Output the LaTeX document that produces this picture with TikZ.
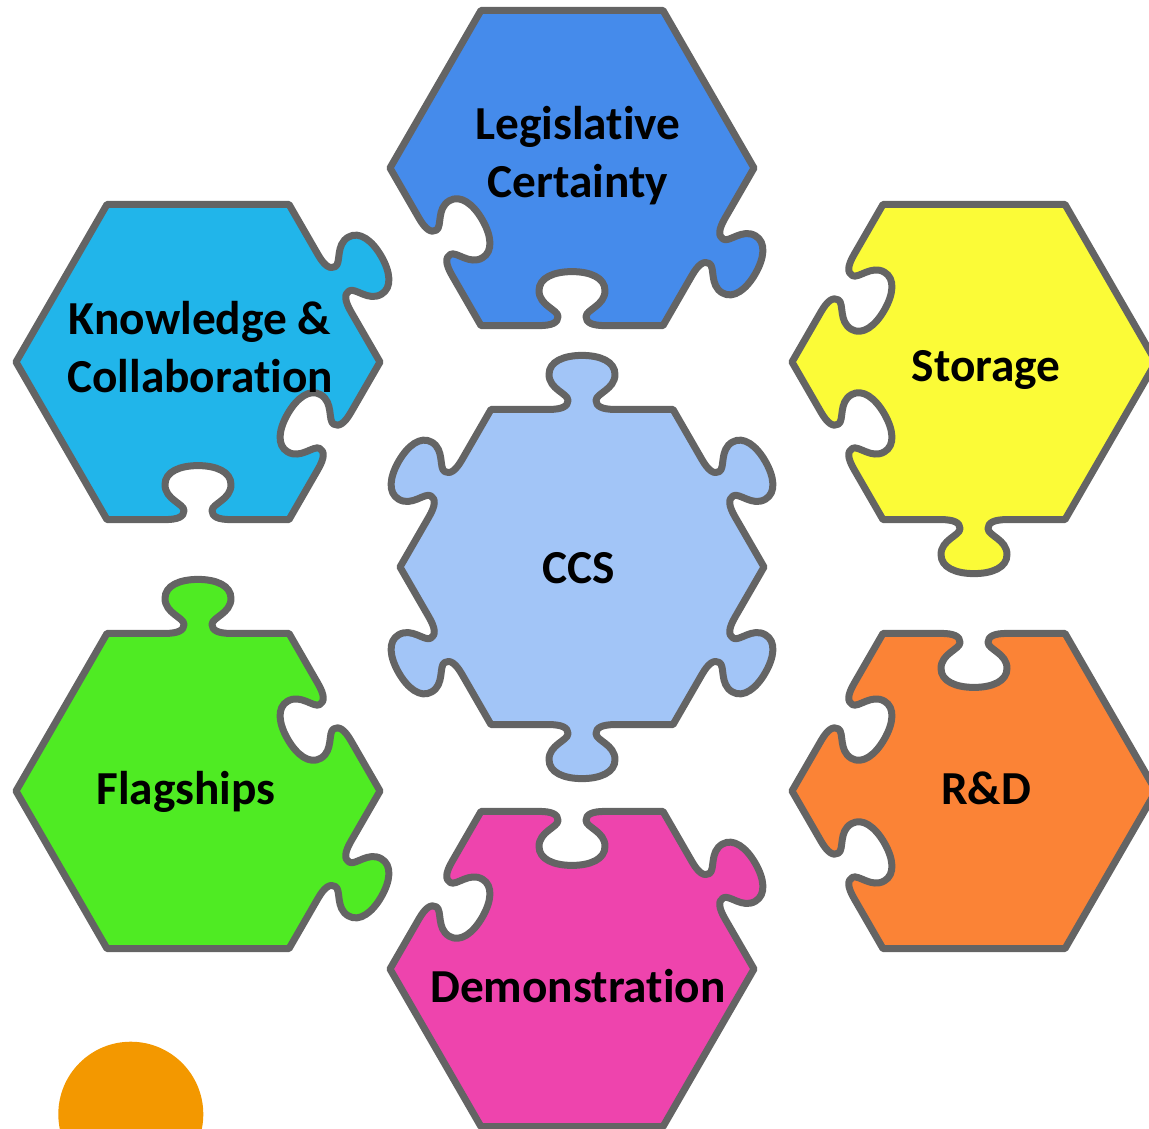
\documentclass[tikz,border=0pt]{standalone}
\usepackage{fontspec}
\setmainfont{Carlito}[Ligatures=NoCommon]
\tikzset{every picture/.style={line width=0.75pt}}
\tikzset{
  piece/.style={draw={rgb, 255:red, 100; green, 100; blue, 100 }, line width=5.25pt, line join=round},
  piecetext/.style={font=\fontsize{35.5}{43}\selectfont\bfseries, align=center, anchor=base},
  knobat/.style={rotate=60*\k+30, shift={(157.6,0)}, xscale=\t}
}
% side \k of a piece: tab (\t=1), blank (\t=-1) or flat (\t=0)
\newcommand\knob{%
  -- ([knobat]0,-33)
  .. controls ([knobat]0,-20) and ([knobat]3,-14) .. ([knobat]9,-14)
  .. controls ([knobat]16,-14) and ([knobat]20,-33) .. ([knobat]35,-33)
  .. controls ([knobat]48,-33) and ([knobat]54,-18) .. ([knobat]54,0)
  .. controls ([knobat]54,18) and ([knobat]48,33) .. ([knobat]35,33)
  .. controls ([knobat]20,33) and ([knobat]16,14) .. ([knobat]9,14)
  .. controls ([knobat]3,14) and ([knobat]0,20) .. ([knobat]0,33)
}
\begin{document}
\begin{tikzpicture}[x=0.75pt,y=0.75pt,yscale=-1,xscale=1]
	\useasboundingbox (0,0) rectangle (1149,1128);

	%Shape: Puzzle Piece [Legislative Certainty]
	\begin{scope}[shift={(572,168)}]
	\draw [piece, fill={rgb, 255:red, 69; green, 139; blue, 235 }] (0:182)
	  \foreach \k/\t in {0/1,1/-1,2/-1,3/0,4/0,5/0} {\knob -- (60*\k+60:182)} -- cycle ;
	\end{scope}
	%Shape: Puzzle Piece [Knowledge & Collaboration]
	\begin{scope}[shift={(198,362)}]
	\draw [piece, fill={rgb, 255:red, 33; green, 181; blue, 234 }] (0:182)
	  \foreach \k/\t in {0/-1,1/-1,2/0,3/0,4/0,5/1} {\knob -- (60*\k+60:182)} -- cycle ;
	\end{scope}
	%Shape: Puzzle Piece [Storage]
	\begin{scope}[shift={(974,362)}]
	\draw [piece, fill={rgb, 255:red, 251; green, 251; blue, 55 }] (0:182)
	  \foreach \k/\t in {0/0,1/1,2/-1,3/-1,4/0,5/0} {\knob -- (60*\k+60:182)} -- cycle ;
	\end{scope}
	%Shape: Puzzle Piece [CCS]
	\begin{scope}[shift={(582,567)}]
	\draw [piece, fill={rgb, 255:red, 162; green, 197; blue, 247 }] (0:182)
	  \foreach \k/\t in {0/1,1/1,2/1,3/1,4/1,5/1} {\knob -- (60*\k+60:182)} -- cycle ;
	\end{scope}
	%Shape: Puzzle Piece [Flagships]
	\begin{scope}[shift={(198,791)}]
	\draw [piece, fill={rgb, 255:red, 79; green, 235; blue, 35 }] (0:182)
	  \foreach \k/\t in {0/1,1/0,2/0,3/0,4/1,5/-1} {\knob -- (60*\k+60:182)} -- cycle ;
	\end{scope}
	%Shape: Puzzle Piece [R&D]
	\begin{scope}[shift={(974,791)}]
	\draw [piece, fill={rgb, 255:red, 251; green, 131; blue, 54 }] (0:182)
	  \foreach \k/\t in {0/0,1/0,2/-1,3/-1,4/-1,5/0} {\knob -- (60*\k+60:182)} -- cycle ;
	\end{scope}
	%Shape: Puzzle Piece [Demonstration]
	\begin{scope}[shift={(572,969)}]
	\draw [piece, fill={rgb, 255:red, 238; green, 68; blue, 173 }] (0:182)
	  \foreach \k/\t in {0/0,1/0,2/0,3/-1,4/-1,5/1} {\knob -- (60*\k+60:182)} -- cycle ;
	\end{scope}

	%Shape: Circle
	\draw [draw opacity=0, fill={rgb, 255:red, 243; green, 152; blue, 0 }] (130.8,1114.2) circle (72.5) ;

	% Text Node
	\draw (578,197) node [piecetext] (legis) {Legislative\\Certainty};
	% Text Node
	\draw (200,392) node [piecetext] (know) {Knowledge \&\\Collaboration};
	% Text Node
	\draw (986,381) node [piecetext] (stor) {Storage};
	% Text Node
	\draw (579,583) node [piecetext] (ccs) {CCS};
	% Text Node
	\draw (186,804) node [piecetext] (flag) {Flagships};
	% Text Node
	\draw (986,804) node [piecetext] (rnd) {R\&D};
	% Text Node
	\draw (578,1002) node [piecetext] (demo) {Demonstration};

\end{tikzpicture}
\end{document}
